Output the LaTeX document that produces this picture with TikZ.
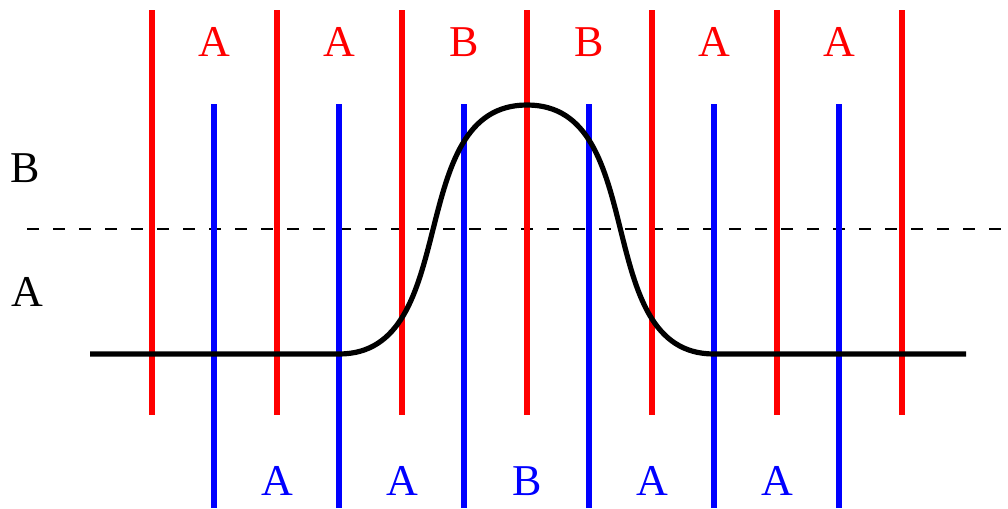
\documentclass[tikz,border=0pt]{standalone}
\usepackage{fontspec}
\setmainfont{Liberation Serif}
\begin{document}
\begin{tikzpicture}[x=0.75pt,y=-0.75pt,
  redline/.style={draw={rgb,255:red,255;green,0;blue,0},line width=3.9pt},
  blueline/.style={draw={rgb,255:red,0;green,0;blue,255},line width=3.9pt},
  lab/.style={inner sep=0pt,font=\fontsize{33}{33}\selectfont},
  redlab/.style={lab,text={rgb,255:red,255;green,0;blue,0}},
  bluelab/.style={lab,text={rgb,255:red,0;green,0;blue,255}},
  curve/.style={draw=black,line width=3.9pt,line join=round},
  divider/.style={draw=black,line width=1.1pt,dash pattern=on 9pt off 10.5pt}]
\useasboundingbox (0,0) rectangle (1008,508);
% dashed divider
\coordinate (dl) at (27,229);
\coordinate (dr) at (1008,229);
\draw[divider] (dl) -- (dr);
% red lines
\foreach \i/\x in {1/152,2/277,3/402,4/527,5/652,6/777,7/902}{
  \coordinate (rt\i) at (\x,10);
  \coordinate (rb\i) at (\x,415);
  \draw[redline] (rt\i) -- (rb\i);
}
% blue lines
\foreach \i/\x in {1/214,2/339,3/464,4/589,5/714,6/839}{
  \coordinate (bt\i) at (\x,104);
  \coordinate (bb\i) at (\x,508);
  \draw[blueline] (bt\i) -- (bb\i);
}
% curve
\coordinate (cl) at (90,354);
\coordinate (c1) at (339,354);
\coordinate (ctop) at (527,105);
\coordinate (c2) at (714,354);
\coordinate (cr) at (966,354);
\draw[curve] (cl) -- (c1) .. controls (464,354) and (402,105) .. (ctop)
  .. controls (652,105) and (589,354) .. (c2) -- (cr);
% labels
\node[redlab] (ra1) at (214,42) {A};
\node[redlab] (ra2) at (339,42) {A};
\node[redlab] (ra3) at (464,42) {B};
\node[redlab] (ra4) at (589,42) {B};
\node[redlab] (ra5) at (714,42) {A};
\node[redlab] (ra6) at (839,42) {A};
\node[bluelab] (ba1) at (277,481) {A};
\node[bluelab] (ba2) at (402,481) {A};
\node[bluelab] (ba3) at (527,481) {B};
\node[bluelab] (ba4) at (652,481) {A};
\node[bluelab] (ba5) at (777,481) {A};
\node[lab] (lb) at (25.5,168) {B};
\node[lab] (la) at (27,292) {A};
\end{tikzpicture}
\end{document}
